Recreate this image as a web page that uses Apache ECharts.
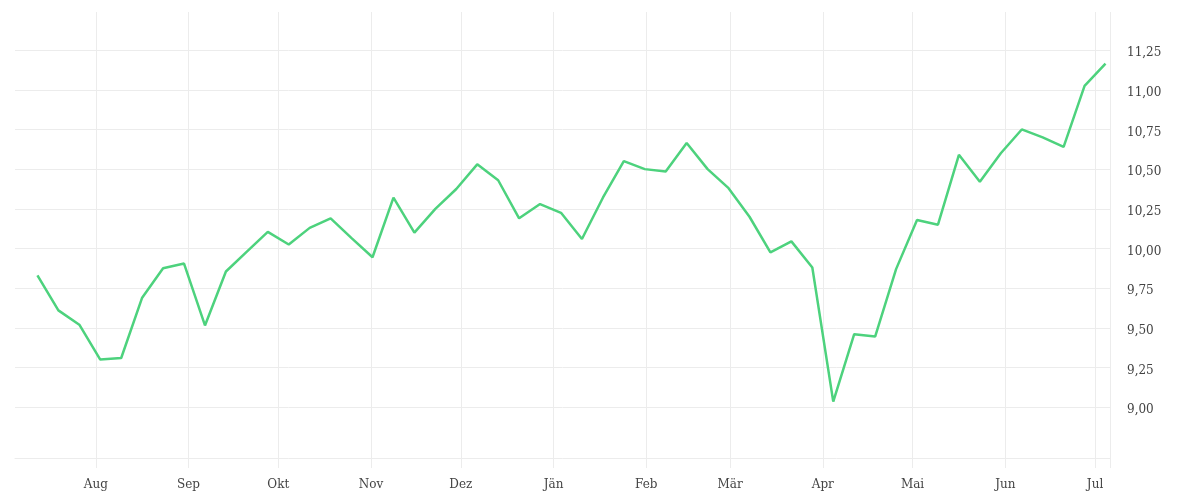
<!DOCTYPE html>
<html>
<head>
<meta charset="utf-8">
<title>Kursverlauf</title>
<script src="https://cdn.jsdelivr.net/npm/echarts@6/dist/echarts.min.js"></script>
<style>
    html, body { margin: 0; padding: 0; background: #fff; }
    #chart { width: 1200px; height: 500px; }
</style>
</head>
<body>
<div id="chart"></div>
<script>
// ---- Daten ----
// erster Wochenwert, danach je 7 Tage
var firstWeek = '2024-07-12';
var weeklyValues = [
    9.83, 9.61, 9.52, 9.30, 9.31, 9.69, 9.875, 9.905, 9.515, 9.855,
    9.98, 10.105, 10.025, 10.13, 10.19, 10.065, 9.945, 10.32, 10.10, 10.25,
    10.375, 10.53, 10.43, 10.19, 10.28, 10.225, 10.06, 10.32, 10.55, 10.50,
    10.485, 10.665, 10.50, 10.38, 10.20, 9.975, 10.045, 9.88, 9.035, 9.46,
    9.445, 9.87, 10.18, 10.15, 10.59, 10.42, 10.60, 10.75, 10.70, 10.64,
    11.025, 11.165
];
var monthNames = ['Jän', 'Feb', 'Mär', 'Apr', 'Mai', 'Jun', 'Jul', 'Aug', 'Sep', 'Okt', 'Nov', 'Dez'];
var monthTicks = [
    '2024-08-01', '2024-09-01', '2024-10-01', '2024-11-01', '2024-12-01', '2025-01-01',
    '2025-02-01', '2025-03-01', '2025-04-01', '2025-05-01', '2025-06-01', '2025-07-01'
];
var xRange = ['2024-07-05', '2025-07-06'];
var yTicks = [9.00, 9.25, 9.50, 9.75, 10.00, 10.25, 10.50, 10.75, 11.00, 11.25];
var yRange = [8.68, 11.49];

(function () {
    'use strict';

    var DAY = 24 * 3600 * 1000;

    function ts(s) {
        var p = s.split('-');
        return Date.UTC(+p[0], +p[1] - 1, +p[2]);
    }

    // Datenpaare [Zeit, Wert] (Wochenmitte leicht versetzt wie im Original)
    var start = ts(firstWeek) + DAY / 2;
    var seriesData = weeklyValues.map(function (v, i) {
        return [start + i * 7 * DAY, v];
    });

    var tickTimes = monthTicks.map(ts);
    // Linie am rechten Rand zusätzlich als Tick
    var tickTimesWithEnd = tickTimes.concat([ts(xRange[1])]);

    var textFont = '"DejaVu Serif", serif';
    var gridColor = '#ececec';

    var chart = echarts.init(document.getElementById('chart'));

    chart.setOption({
        animation: false,
        grid: { left: 15, right: 90, top: 12, bottom: 42 },
        xAxis: {
            // Zeitachse als Zahlenachse (Millisekunden), Monatsanfänge als Ticks
            type: 'value',
            min: ts(xRange[0]),
            max: ts(xRange[1]),
            axisLine: { show: true, lineStyle: { color: gridColor, width: 1 } },
            axisTick: {
                show: true,
                length: 10,
                customValues: tickTimesWithEnd,
                lineStyle: { color: gridColor }
            },
            splitLine: { show: true, lineStyle: { color: gridColor, width: 1 } },
            axisLabel: {
                customValues: tickTimes,
                margin: 21,
                color: '#444',
                fontFamily: textFont,
                fontSize: 12,
                formatter: function (val) {
                    return monthNames[new Date(val).getUTCMonth()];
                }
            }
        },
        yAxis: {
            type: 'value',
            position: 'right',
            min: yRange[0],
            max: yRange[1],
            axisLine: { show: false },
            axisTick: { show: false, customValues: yTicks },
            splitLine: { show: true, lineStyle: { color: gridColor, width: 1 } },
            axisLabel: {
                customValues: yTicks,
                margin: 17,
                // Beschriftung etwas unterhalb der Rasterlinie
                verticalAlign: 'top',
                lineHeight: 6,
                color: '#444',
                fontFamily: textFont,
                fontSize: 12,
                formatter: function (v) {
                    return v.toFixed(2).replace('.', ',');
                }
            }
        },
        series: [{
            type: 'line',
            data: seriesData,
            showSymbol: false,
            smooth: false,
            lineStyle: { color: '#4dd27d', width: 2.5 },
            itemStyle: { color: '#4dd27d' }
        }]
    });

    window.addEventListener('resize', function () {
        chart.resize();
    });
})();
</script>
</body>
</html>
